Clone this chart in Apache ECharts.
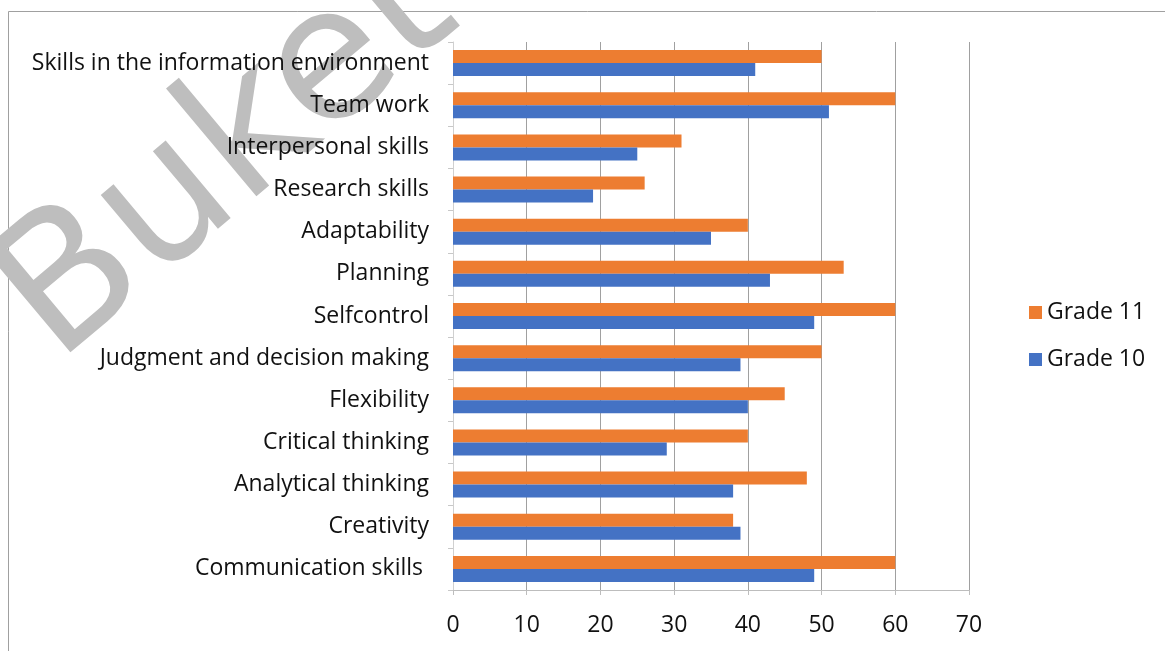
<!DOCTYPE html>
<html>
<head>
<meta charset="utf-8">
<title>Skills by grade</title>
<script src="https://cdn.jsdelivr.net/npm/echarts@6/dist/echarts.min.js"></script>
<style>
  html, body { margin: 0; padding: 0; background: #fff; }
  #main { width: 1165px; height: 651px; }
</style>
</head>
<body>
<div id="main"></div>
<script>
// categories, top to bottom as drawn
const skills = [
  'Skills in the information environment',
  'Team work',
  'Interpersonal skills',
  'Research skills',
  'Adaptability',
  'Planning',
  'Selfcontrol',
  'Judgment and decision making',
  'Flexibility',
  'Critical thinking',
  'Analytical thinking',
  'Creativity',
  'Communication skills '
]
// values
const grade11 = [50, 60, 31, 26, 40, 53, 60, 50, 45, 40, 48, 38, 60]
const grade10 = [41, 51, 25, 19, 35, 43, 49, 39, 40, 29, 38, 39, 49]
const xTicks = [0, 10, 20, 30, 40, 50, 60, 70]

const labelFont = '"Open Sans", Lato, sans-serif'

let chart = echarts.init(document.getElementById('main'))

let option = {
  backgroundColor: '#fff',
  animation: false,
  grid: {
    left: 453,
    right: 196,
    top: 42,
    bottom: 61
  },
  legend: {
    orient: 'vertical',
    left: 1024,
    top: 296,
    itemWidth: 13,
    itemHeight: 13,
    itemGap: 24,
    icon: 'rect',
    data: ['Grade 11', 'Grade 10'],
    textStyle: { fontSize: 23, color: '#111', fontFamily: labelFont }
  },
  xAxis: {
    type: 'value',
    min: xTicks[0],
    max: xTicks[xTicks.length - 1],
    interval: 10,
    axisLine: { show: true, lineStyle: { color: '#bdbdbd' } },
    axisTick: { show: true, length: 5, lineStyle: { color: '#bdbdbd' } },
    axisLabel: { fontSize: 23, color: '#111', margin: 24, fontFamily: labelFont },
    splitLine: { show: true, lineStyle: { color: '#a0a0a0' } }
  },
  yAxis: {
    type: 'category',
    inverse: true,
    data: skills,
    axisLine: { show: true, lineStyle: { color: '#d0d0d0' } },
    axisTick: { show: true, length: 5, lineStyle: { color: '#c8c8c8' } },
    axisLabel: { fontSize: 23, color: '#111', margin: 24, fontFamily: labelFont }
  },
  series: [
    {
      name: 'Grade 11',
      type: 'bar',
      data: grade11,
      barWidth: 13,
      barGap: '0%',
      itemStyle: { color: '#ED7D31' }
    },
    {
      name: 'Grade 10',
      type: 'bar',
      data: grade10,
      barWidth: 13,
      itemStyle: { color: '#4472C4' }
    }
  ],
  graphic: [
    {
      type: 'rect',
      silent: true,
      z: 0,
      shape: { x: 8.5, y: 11.5, width: 1200, height: 700 },
      style: { fill: null, stroke: '#a0a0a0', lineWidth: 1 }
    },
    {
      // watermark across the upper left
      type: 'text',
      silent: true,
      z: 0,
      x: 85,
      y: 398,
      rotation: 40 * Math.PI / 180,
      style: {
        text: 'Buket',
        font: '185px "DejaVu Sans", sans-serif',
        fill: '#bebebe',
        align: 'left',
        verticalAlign: 'bottom'
      }
    }
  ]
}

chart.setOption(option)
</script>
</body>
</html>
